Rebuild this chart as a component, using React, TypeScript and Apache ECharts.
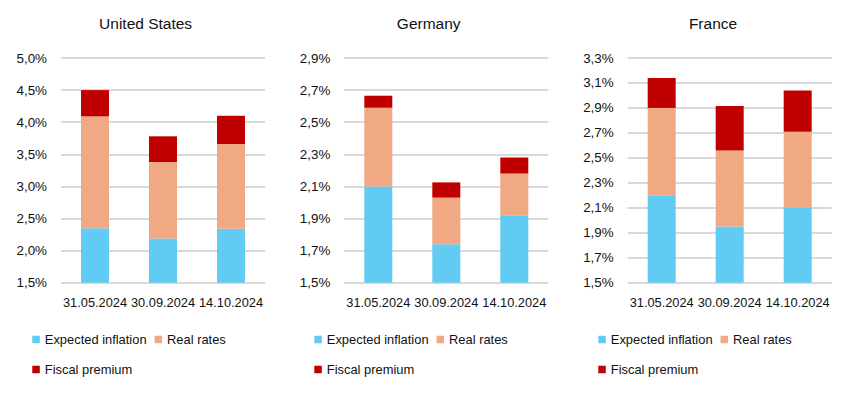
import React, { useEffect, useRef } from "react";
import * as echarts from "echarts";

const categories = ["31.05.2024", "30.09.2024", "14.10.2024"];
const countries = ["United States", "Germany", "France"];
const seriesNames = ["Expected inflation", "Real rates", "Fiscal premium"];

const usInflation = [2.35, 2.19, 2.34];
const usReal = [1.74, 1.19, 1.32];
const usFiscal = [0.41, 0.4, 0.44];

const deInflation = [2.1, 1.74, 1.92];
const deReal = [0.49, 0.29, 0.26];
const deFiscal = [0.075, 0.095, 0.1];

const frInflation = [2.2, 1.95, 2.1];
const frReal = [0.7, 0.61, 0.61];
const frFiscal = [0.24, 0.355, 0.33];

const yMin = [1.5, 1.5, 1.5];
const yMax = [5.0, 2.9, 3.3];
const yStep = [0.5, 0.2, 0.2];

const panels = [
  [usInflation, usReal, usFiscal],
  [deInflation, deReal, deFiscal],
  [frInflation, frReal, frFiscal],
];

const colors = ["#61CBF3", "#F1A983", "#C00000"];
const FONT = "'Liberation Sans', Arial, sans-serif";

const gridLeft = [61, 344.3, 627.7];
const titleX = [145.6, 428.7, 713];
const legendLeft = [32.3, 314.3, 598.3];

export default function App() {
  const ref = useRef<HTMLDivElement>(null);
  useEffect(() => {
    if (!ref.current) return;
    const chart = echarts.init(ref.current, null, { renderer: "svg" });
    const grids: any[] = [];
    const xAxes: any[] = [];
    const yAxes: any[] = [];
    const series: any[] = [];
    const legends: any[] = [];
    const graphics: any[] = [];
    panels.forEach((p, i) => {
      const base = yMin[i];
      grids.push({ left: gridLeft[i], top: 58, width: 204, height: 224.7 });
      xAxes.push({
        type: "category",
        gridIndex: i,
        data: categories,
        axisLine: { show: false },
        axisTick: { show: false },
        axisLabel: { color: "#111", fontSize: 12.8, fontFamily: FONT, margin: 13, interval: 0 },
      });
      yAxes.push({
        type: "value",
        gridIndex: i,
        min: 0,
        max: yMax[i] - base,
        interval: yStep[i],
        axisLine: { show: false },
        axisTick: { show: false },
        splitLine: { lineStyle: { color: "#D9D9D9", width: 2 } },
        axisLabel: {
          color: "#111",
          fontSize: 13.4,
          fontFamily: FONT,
          margin: 14,
          formatter: (v: number) => (v + base).toFixed(1).replace(".", ",") + "%",
        },
      });
      p.forEach((vals, k) => {
        series.push({
          name: seriesNames[k],
          type: "bar",
          xAxisIndex: i,
          yAxisIndex: i,
          stack: "s" + i,
          barWidth: 28,
          itemStyle: { color: colors[k] },
          data: k === 0 ? vals.map((v) => v - base) : vals,
        });
      });
      legends.push({
        left: legendLeft[i],
        top: 333,
        padding: 0,
        data: [seriesNames[0], seriesNames[1]],
        itemWidth: 7.5,
        itemHeight: 7.5,
        itemGap: 8,
        icon: "rect",
        selectedMode: false,
        textStyle: { fontSize: 12.9, fontFamily: FONT, color: "#111" },
      });
      legends.push({
        left: legendLeft[i],
        top: 363,
        padding: 0,
        data: [seriesNames[2]],
        itemWidth: 7.5,
        itemHeight: 7.5,
        icon: "rect",
        selectedMode: false,
        textStyle: { fontSize: 12.9, fontFamily: FONT, color: "#111" },
      });
      graphics.push({
        type: "text",
        x: titleX[i],
        y: 23,
        style: {
          text: countries[i],
          fontSize: 15.5,
          fontFamily: FONT,
          fill: "#111",
          textAlign: "center",
          textVerticalAlign: "middle",
        },
      });
    });
    chart.setOption({
      animation: false,
      grid: grids,
      xAxis: xAxes,
      yAxis: yAxes,
      series,
      legend: legends,
      graphic: graphics,
    });
    return () => chart.dispose();
  }, []);
  return (
    <div
      ref={ref}
      style={{ width: 846, height: 393, position: "absolute", left: 0, top: 0, background: "#fff" }}
    />
  );
}
